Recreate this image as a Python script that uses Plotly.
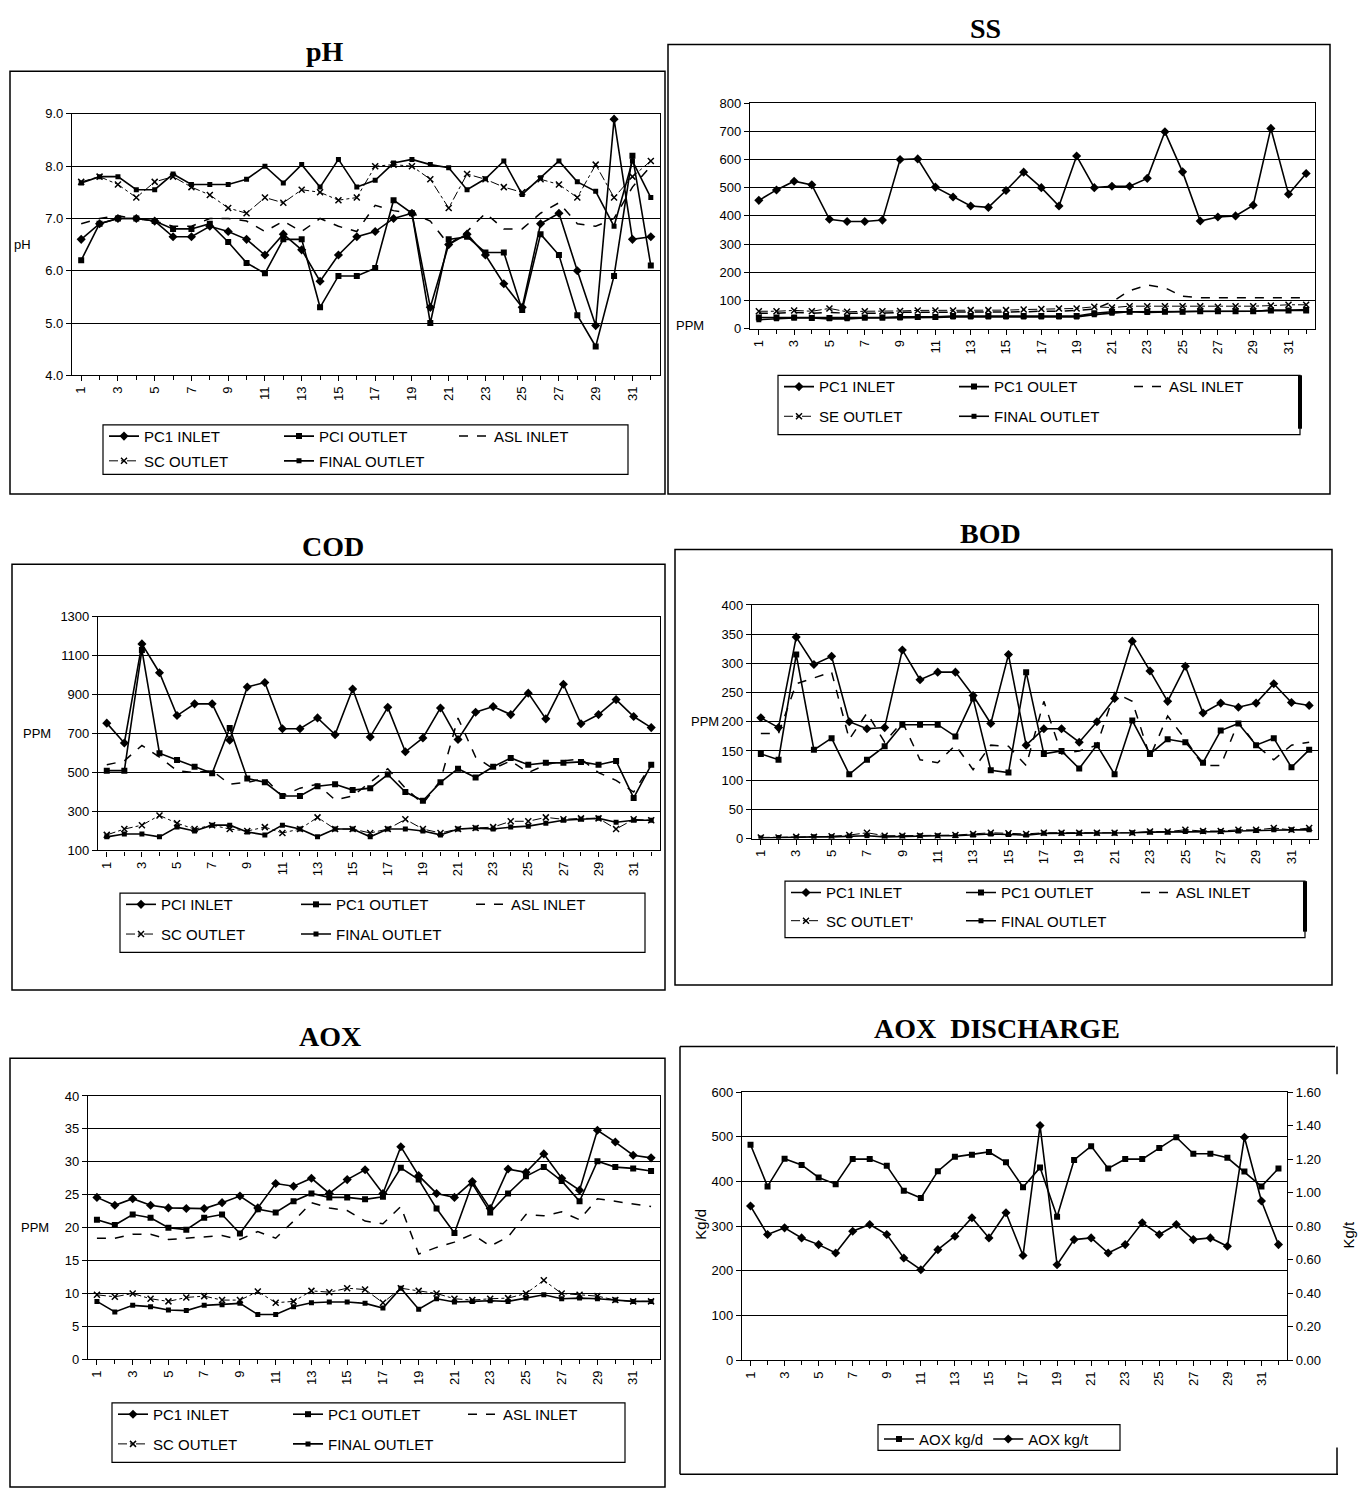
import plotly.graph_objects as go

W, H = 1367, 1499

DAYS = list(range(1, 33))
TICK_VALS = list(range(1, 32, 2))
TICK_LABELS = [str(v) for v in TICK_VALS]

# ---------------- pH ----------------
PH_PC1_INLET = [6.6, 6.9, 7.0, 7.0, 6.95, 6.65, 6.65, 6.85, 6.75, 6.6, 6.3, 6.7, 6.4, 5.8, 6.3, 6.65,
                6.75, 7.0, 7.1, 5.3, 6.5, 6.7, 6.3, 5.75, 5.3, 6.9, 7.1, 6.0, 4.95, 8.9, 6.6, 6.65]
PH_PC1_OUTLET = [6.2, 6.9, 7.0, 7.0, 6.95, 6.8, 6.8, 6.9, 6.55, 6.15, 5.95, 6.6, 6.6, 5.3, 5.9, 5.9,
                 6.05, 7.35, 7.1, 5.0, 6.6, 6.65, 6.35, 6.35, 5.25, 6.7, 6.3, 5.15, 4.55, 5.9, 8.2, 6.1]
PH_ASL_INLET = [6.9, 7.0, 7.05, 7.0, 6.95, 6.85, 6.85, 7.0, 7.0, 6.95, 6.75, 6.95, 6.75, 7.0, 6.85, 6.75,
                7.25, 7.15, 7.1, 6.95, 6.5, 6.75, 7.1, 6.8, 6.8, 7.1, 7.3, 6.9, 6.85, 7.0, 7.6, 8.0]
PH_SC_OUTLET = [7.7, 7.8, 7.65, 7.4, 7.7, 7.8, 7.6, 7.45, 7.2, 7.1, 7.4, 7.3, 7.55, 7.5, 7.35, 7.4,
                8.0, 8.03, 8.0, 7.75, 7.2, 7.85, 7.75, 7.6, 7.5, 7.75, 7.65, 7.4, 8.03, 7.4, 7.8, 8.1]
PH_FINAL_OUTLET = [7.68, 7.8, 7.8, 7.55, 7.55, 7.85, 7.65, 7.65, 7.65, 7.75, 8.0, 7.68, 8.03, 7.6, 8.13, 7.6,
                   7.73, 8.06, 8.13, 8.03, 7.97, 7.55, 7.76, 8.1, 7.46, 7.78, 8.1, 7.7, 7.52, 6.85, 8.1, 7.4]

# ---------------- SS ----------------
SS_PC1_INLET = [455, 492, 523, 510, 388, 380, 380, 385, 600, 602, 502, 467, 435, 430, 490, 555,
                500, 435, 612, 500, 505, 505, 533, 698, 556, 382, 396, 400, 438, 710, 477, 550]
SS_PC1_OUTLET = [40, 40, 40, 38, 38, 40, 40, 40, 42, 42, 42, 45, 45, 45, 45, 45,
                 45, 45, 45, 55, 60, 60, 60, 60, 60, 62, 62, 62, 62, 65, 65, 65]
SS_ASL_INLET = [55, 55, 58, 55, 58, 55, 55, 55, 58, 58, 58, 60, 60, 60, 60, 60,
                62, 62, 65, 70, 95, 135, 155, 145, 115, 110, 110, 110, 108, 108, 110, 110]
SS_SE_OUTLET = [62, 62, 65, 62, 72, 60, 62, 62, 63, 65, 65, 65, 66, 66, 66, 68,
                70, 72, 72, 78, 75, 80, 80, 80, 80, 80, 78, 80, 80, 82, 85, 85]
SS_FINAL_OUTLET = [32, 35, 38, 38, 35, 35, 38, 38, 38, 40, 40, 42, 42, 42, 42, 42,
                   42, 42, 42, 50, 55, 60, 58, 60, 60, 62, 62, 62, 62, 65, 65, 68]

# ---------------- COD ----------------
COD_PC1_INLET = [754, 652, 1161, 1013, 793, 853, 853, 666, 940, 963, 725, 725, 781, 695, 929, 683,
                 835, 607, 678, 832, 670, 810, 839, 798, 908, 776, 954, 751, 798, 875, 788, 731]
COD_PC1_OUTLET = [510, 510, 1130, 600, 565, 530, 497, 729, 470, 450, 380, 380, 430, 440, 410, 420,
                  490, 400, 355, 450, 520, 475, 530, 575, 540, 550, 550, 555, 540, 560, 370, 540]
COD_ASL_INLET = [540, 560, 640, 580, 510, 500, 510, 440, 450, 470, 380, 420, 440, 360, 380, 450,
                 520, 420, 340, 460, 780, 580, 520, 560, 500, 540, 560, 570, 500, 460, 400, 540]
COD_SC_OUTLET = [180, 210, 230, 280, 240, 210, 230, 210, 200, 220, 190, 210, 270, 210, 210, 190,
                 210, 260, 210, 190, 210, 215, 220, 250, 250, 270, 260, 265, 265, 210, 260, 255]
COD_FINAL_OUTLET = [170, 185, 185, 170, 220, 200, 230, 230, 195, 180, 230, 210, 170, 210, 210, 170,
                    210, 210, 200, 180, 210, 215, 210, 220, 225, 240, 255, 260, 265, 245, 255, 255]

# ---------------- BOD ----------------
BOD_PC1_INLET = [207, 190, 345, 298, 312, 200, 188, 190, 323, 272, 285, 285, 245, 197, 315, 160,
                 188, 188, 165, 200, 240, 338, 287, 235, 295, 215, 232, 225, 232, 265, 233, 228]
BOD_PC1_OUTLET = [145, 135, 315, 152, 172, 110, 135, 158, 195, 195, 195, 175, 240, 117, 113, 285,
                  145, 150, 120, 160, 110, 202, 145, 170, 165, 130, 185, 197, 160, 172, 122, 152]
BOD_ASL_INLET = [180, 180, 265, 275, 285, 170, 215, 165, 200, 135, 130, 160, 118, 160, 158, 125,
                 235, 145, 150, 160, 250, 235, 140, 210, 170, 125, 125, 200, 160, 135, 160, 165]
BOD_SC_OUTLET = [2, 2, 3, 3, 4, 6, 10, 5, 5, 5, 5, 6, 8, 10, 9, 8,
                 10, 10, 10, 10, 10, 10, 12, 12, 15, 13, 13, 15, 15, 18, 15, 18]
BOD_FINAL_OUTLET = [1, 2, 2, 3, 3, 4, 5, 3, 4, 5, 5, 5, 6, 8, 7, 6,
                    9, 9, 9, 9, 9, 10, 11, 11, 12, 12, 12, 13, 14, 15, 15, 15]

# ---------------- AOX ----------------
AOX_PC1_INLET = [24.6, 23.4, 24.4, 23.4, 23.0, 22.9, 22.9, 23.8, 24.8, 23.0, 26.7, 26.3, 27.5, 25.2, 27.3, 28.8,
                 25.2, 32.3, 27.9, 25.2, 24.6, 27.0, 22.9, 28.9, 28.4, 31.2, 27.5, 25.7, 34.8, 33.0, 31.0, 30.6]
AOX_PC1_OUTLET = [21.2, 20.4, 22.0, 21.5, 20.0, 19.7, 21.5, 22.0, 19.1, 22.8, 22.3, 24.0, 25.2, 24.6, 24.6, 24.3,
                  24.7, 29.1, 27.3, 22.9, 19.2, 26.7, 22.3, 25.2, 27.8, 29.2, 27.1, 24.0, 30.1, 29.2, 29.0, 28.6]
AOX_ASL_INLET = [18.4, 18.4, 19.0, 19.0, 18.2, 18.4, 18.6, 18.8, 18.2, 19.4, 18.4, 21.0, 23.8, 23.0, 22.6, 21.0,
                 20.6, 23.2, 16.0, 17.0, 17.8, 19.0, 17.2, 18.6, 22.0, 21.8, 22.4, 21.2, 24.4, 24.0, 23.6, 23.2]
AOX_SC_OUTLET = [9.8, 9.5, 10.0, 9.2, 8.8, 9.4, 9.6, 9.0, 9.0, 10.3, 8.6, 8.8, 10.4, 10.2, 10.8, 10.6,
                 8.6, 10.8, 10.4, 10.0, 9.2, 9.0, 9.2, 9.3, 10.0, 12.0, 10.0, 9.8, 9.6, 9.0, 8.8, 8.8]
AOX_FINAL_OUTLET = [8.8, 7.2, 8.2, 8.0, 7.5, 7.4, 8.2, 8.3, 8.5, 6.8, 6.8, 8.0, 8.6, 8.7, 8.7, 8.5,
                    7.8, 10.8, 7.6, 9.2, 8.7, 8.8, 8.9, 8.8, 9.3, 9.8, 9.2, 9.3, 9.2, 9.0, 8.8, 8.8]

# ---------------- AOX DISCHARGE ----------------
AOXD_KG_D = [482, 389, 451, 437, 409, 394, 450, 450, 435, 379, 363, 423, 455, 460, 466, 443,
             387, 431, 321, 448, 479, 429, 450, 450, 475, 499, 462, 462, 453, 422, 389, 429]
AOXD_KG_T = [0.92, 0.75, 0.79, 0.73, 0.69, 0.64, 0.77, 0.81, 0.75, 0.61, 0.54, 0.66, 0.74, 0.85, 0.73, 0.88,
             0.625, 1.40, 0.57, 0.72, 0.73, 0.64, 0.69, 0.82, 0.75, 0.81, 0.72, 0.73, 0.68, 1.33, 0.95, 0.69]

FONT = "Liberation Sans, Arial, sans-serif"
SERIF = "Liberation Serif, Times New Roman, serif"


def fx(p):
    return p / W


def fy(p):
    return 1 - p / H


STYLE = {
    "inlet": dict(mode="lines+markers", line=dict(color="black", width=1.6),
                  marker=dict(symbol="diamond", size=7, color="black")),
    "outlet": dict(mode="lines+markers", line=dict(color="black", width=1.6),
                   marker=dict(symbol="square", size=6, color="black")),
    "asl": dict(mode="lines", line=dict(color="black", width=1.5, dash="dash")),
    "sc": dict(mode="lines+markers", line=dict(color="black", width=1.0, dash="dashdot"),
               marker=dict(symbol="x-thin", size=6, color="black", line=dict(width=1.5, color="black"))),
    "final": dict(mode="lines+markers", line=dict(color="black", width=1.6),
                  marker=dict(symbol="square", size=5, color="black")),
}

panels = [
    dict(title="pH", tx=325, ty=45, box=(72, 660, 108, 372), yr=(4, 9), dtick=1, fmt=".1f",
         ylab="pH", ylx=22, yly=240, frame=(10, 665, 65, 492), leg=(103, 628, 422, 472), bar=False,
         series=[("PC1 INLET", PH_PC1_INLET, "inlet"), ("PCI OUTLET", PH_PC1_OUTLET, "outlet"),
                 ("ASL INLET", PH_ASL_INLET, "asl"), ("SC OUTLET", PH_SC_OUTLET, "sc"),
                 ("FINAL OUTLET", PH_FINAL_OUTLET, "final")]),
    dict(title="SS", tx=985, ty=22, box=(750, 1315, 97, 325), yr=(0, 800), dtick=100, fmt="d",
         ylab="PPM", ylx=690, yly=322, frame=(668, 1330, 38, 492), leg=(778, 1300, 372, 432), bar=True,
         series=[("PC1 INLET", SS_PC1_INLET, "inlet"), ("PC1 OULET", SS_PC1_OUTLET, "outlet"),
                 ("ASL INLET", SS_ASL_INLET, "asl"), ("SE OUTLET", SS_SE_OUTLET, "sc"),
                 ("FINAL OUTLET", SS_FINAL_OUTLET, "final")]),
    dict(title="COD", tx=333, ty=545, box=(98, 660, 616, 852), yr=(100, 1300), dtick=200, fmt="d",
         ylab="PPM", ylx=37, yly=734, frame=(12, 665, 563, 993), leg=(120, 645, 895, 955), bar=False,
         series=[("PCI INLET", COD_PC1_INLET, "inlet"), ("PC1 OUTLET", COD_PC1_OUTLET, "outlet"),
                 ("ASL INLET", COD_ASL_INLET, "asl"), ("SC OUTLET", COD_SC_OUTLET, "sc"),
                 ("FINAL OUTLET", COD_FINAL_OUTLET, "final")]),
    dict(title="BOD", tx=990, ty=532, box=(752, 1318, 604, 840), yr=(0, 400), dtick=50, fmt="d",
         ylab="PPM", ylx=705, yly=722, frame=(675, 1332, 548, 988), leg=(785, 1305, 883, 940), bar=True,
         series=[("PC1 INLET", BOD_PC1_INLET, "inlet"), ("PC1 OUTLET", BOD_PC1_OUTLET, "outlet"),
                 ("ASL INLET", BOD_ASL_INLET, "asl"), ("SC OUTLET'", BOD_SC_OUTLET, "sc"),
                 ("FINAL OUTLET", BOD_FINAL_OUTLET, "final")]),
    dict(title="AOX", tx=330, ty=1040, box=(88, 660, 1100, 1366), yr=(0, 40), dtick=5, fmt="d",
         ylab="PPM", ylx=35, yly=1233, frame=(10, 665, 1062, 1495), leg=(112, 625, 1410, 1470), bar=False,
         series=[("PC1 INLET", AOX_PC1_INLET, "inlet"), ("PC1 OUTLET", AOX_PC1_OUTLET, "outlet"),
                 ("ASL INLET", AOX_ASL_INLET, "asl"), ("SC OUTLET", AOX_SC_OUTLET, "sc"),
                 ("FINAL OUTLET", AOX_FINAL_OUTLET, "final")]),
]

fig = go.Figure()
layout = dict(width=W, height=H, margin=dict(l=0, r=0, t=0, b=0), paper_bgcolor="white",
              plot_bgcolor="white", font=dict(family=FONT, size=13, color="black"))
shapes = []
annotations = []

LEGFONT = dict(family=FONT, size=15, color="black")


def xaxis_spec(x0, x1, anchor):
    return dict(domain=[fx(x0), fx(x1)], anchor=anchor, range=[0.5, 32.5], tickmode="array",
                tickvals=TICK_VALS, ticktext=TICK_LABELS, tickangle=-90, ticks="outside", ticklen=5,
                tickcolor="black", showline=True, linecolor="black", linewidth=1.2, mirror=True,
                showgrid=False, zeroline=False, tickfont=dict(family=FONT, size=13),
                minor=dict(tickvals=DAYS, ticks="outside", ticklen=4, tickcolor="black"))


def yaxis_spec(y0, y1, anchor, yr, dtick, fmt):
    return dict(domain=[fy(y1), fy(y0)], anchor=anchor, range=list(yr), dtick=dtick, tick0=yr[0],
                tickformat=fmt, ticks="outside", ticklen=5, tickcolor="black", showline=True,
                linecolor="black", linewidth=1.2, mirror=True, showgrid=True, gridcolor="black",
                gridwidth=1.1, zeroline=False, tickfont=dict(family=FONT, size=13))


legend_idx = 0


def new_legend(x, y, ew=130):
    global legend_idx
    legend_idx += 1
    key = "legend" if legend_idx == 1 else f"legend{legend_idx}"
    layout[key] = dict(x=fx(x), y=fy(y), xanchor="left", yanchor="top", orientation="h",
                       bgcolor="rgba(0,0,0,0)", borderwidth=0, font=LEGFONT, itemwidth=30,
                       entrywidth=ew, entrywidthmode="pixels", tracegroupgap=0)
    return key


def ann(text, x, y, size, family=FONT, angle=0):
    annotations.append(dict(text=text, x=fx(x), y=fy(y), xref="paper", yref="paper", showarrow=False,
                            xanchor="center", yanchor="middle", textangle=angle,
                            font=dict(family=family, size=size, color="black")))


for i, p in enumerate(panels):
    n = i + 1
    xa = "x" if n == 1 else f"x{n}"
    ya = "y" if n == 1 else f"y{n}"
    x0, x1, y0, y1 = p["box"]
    layout["xaxis" if n == 1 else f"xaxis{n}"] = xaxis_spec(x0, x1, ya)
    layout["yaxis" if n == 1 else f"yaxis{n}"] = yaxis_spec(y0, y1, xa, p["yr"], p["dtick"], p["fmt"])
    lx0, lx1, ly0, ly1 = p["leg"]
    l1 = new_legend(lx0 + 1, ly0 - 5)
    l2 = new_legend(lx0 + 1, ly0 - 5 + (ly1 - ly0) / 2)
    for j, (name, vals, sty) in enumerate(p["series"]):
        fig.add_trace(go.Scatter(x=DAYS, y=vals, name=name, xaxis=xa, yaxis=ya,
                                 legend=(l1 if j < 3 else l2), **STYLE[sty]))
    shapes.append(dict(type="rect", xref="paper", yref="paper", x0=fx(lx0), x1=fx(lx1),
                       y0=fy(ly1), y1=fy(ly0), line=dict(color="black", width=1.2)))
    if p["bar"]:
        shapes.append(dict(type="line", xref="paper", yref="paper", x0=fx(lx1), x1=fx(lx1),
                           y0=fy(ly1 - 6), y1=fy(ly0), line=dict(color="black", width=4)))
    fxa, fxb, fya, fyb = p["frame"]
    shapes.append(dict(type="rect", xref="paper", yref="paper", x0=fx(fxa), x1=fx(fxb),
                       y0=fy(fyb), y1=fy(fya), line=dict(color="black", width=1.5)))
    ann(f"<b>{p['title']}</b>", p["tx"], p["ty"], 28, SERIF)
    ann(p["ylab"], p["ylx"], p["yly"], 13)

# ---------------- AOX DISCHARGE panel ----------------
layout["xaxis6"] = xaxis_spec(742, 1287, "y6")
layout["yaxis6"] = yaxis_spec(1096, 1367, "x6", (0, 600), 100, "d")
layout["yaxis7"] = dict(overlaying="y6", side="right", anchor="x6", range=[0, 1.6], dtick=0.2, tick0=0,
                        tickformat=".2f", ticks="outside", ticklen=5, tickcolor="black", showline=True,
                        linecolor="black", linewidth=1.2, showgrid=False, zeroline=False,
                        tickfont=dict(family=FONT, size=13))
ld = new_legend(879, 1430, ew=0)
fig.add_trace(go.Scatter(x=DAYS, y=AOXD_KG_D, name="AOX kg/d", xaxis="x6", yaxis="y6", legend=ld,
                         **STYLE["outlet"]))
fig.add_trace(go.Scatter(x=DAYS, y=AOXD_KG_T, name="AOX kg/t", xaxis="x6", yaxis="y7", legend=ld,
                         **STYLE["inlet"]))
shapes.append(dict(type="rect", xref="paper", yref="paper", x0=fx(878), x1=fx(1120),
                   y0=fy(1458), y1=fy(1432), line=dict(color="black", width=1.2)))
for (a, b, c, d) in [(680, 1050, 1335, 1050), (680, 1050, 680, 1482), (680, 1482, 1338, 1482),
                     (1337, 1050, 1337, 1078), (1337, 1455, 1337, 1482)]:
    shapes.append(dict(type="line", xref="paper", yref="paper", x0=fx(a), y0=fy(b), x1=fx(c), y1=fy(d),
                       line=dict(color="black", width=1.5)))
ann("<b>AOX&nbsp;&nbsp;DISCHARGE</b>", 997, 1032, 28, SERIF)
ann("Kg/d", 701, 1230, 15, FONT, -90)
ann("Kg/t", 1349, 1240, 15, FONT, -90)

layout["shapes"] = shapes
layout["annotations"] = annotations
fig.update_layout(**layout)
fig.write_html("out.html", config={"displayModeBar": False},
               post_script="document.body.style.margin='0';document.body.style.overflow='hidden';")
